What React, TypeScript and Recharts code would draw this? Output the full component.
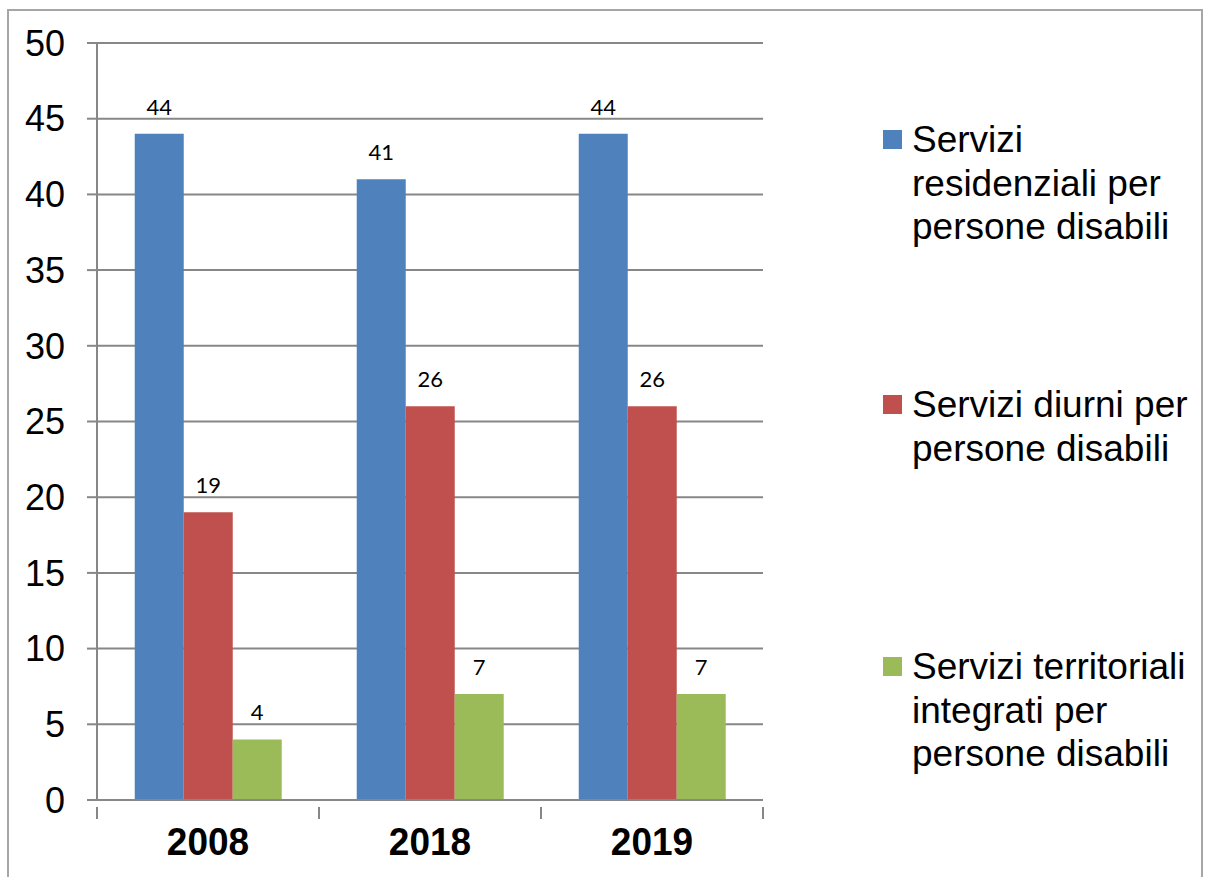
import { Bar, BarChart, CartesianGrid, LabelList, Legend, XAxis, YAxis } from "recharts"

const years = ["2008", "2018", "2019"]
const residenziali = [44, 41, 44]
const diurni = [19, 26, 26]
const territoriali = [4, 7, 7]
const yTicks = [0, 5, 10, 15, 20, 25, 30, 35, 40, 45, 50]

const seriesNames = [
  ["Servizi", "residenziali per", "persone disabili"],
  ["Servizi diurni per", "persone disabili"],
  ["Servizi territoriali", "integrati per", "persone disabili"],
]
const colors = ["#4F81BD", "#C0504D", "#9BBB59"]

const W = 1208
const H = 877
const plotLeft = 97
const plotRight = 763
const catW = (plotRight - plotLeft) / years.length

const data = years.map((y, i) => ({
  name: y,
  residenziali: residenziali[i],
  diurni: diurni[i],
  territoriali: territoriali[i],
}))

const grid = "#878787"

function YearTick(props: any) {
  const { x, y, payload, index } = props
  const left = x - catW / 2
  const ty = y + 47
  return (
    <g>
      <line x1={left} y1={y - 1} x2={left} y2={y + 11} stroke={grid} strokeWidth={2} />
      {index === years.length - 1 && (
        <line x1={left + catW} y1={y - 1} x2={left + catW} y2={y + 11} stroke={grid} strokeWidth={2} />
      )}
      <text
        x={x}
        y={ty}
        textAnchor="middle"
        fontFamily="Liberation Sans, Arial, sans-serif"
        fontWeight="bold"
        fontSize={37}
        fill="#000"
        transform={`translate(0, ${ty}) scale(1, 1.06) translate(0, ${-ty})`}
      >
        {payload.value}
      </text>
    </g>
  )
}

const legendTops = [118, 383, 645]

function renderLegend() {
  return (
    <div style={{ position: "relative", width: W, height: H }}>
      {seriesNames.map((lines, i) => (
        <div
          key={i}
          style={{
            position: "absolute",
            left: 883,
            top: legendTops[i],
            fontFamily: "Liberation Sans, Arial, sans-serif",
            fontSize: 37,
            lineHeight: "43.5px",
            color: "#000",
            whiteSpace: "nowrap",
          }}
        >
          <span
            style={{
              position: "absolute",
              left: 0,
              top: 12,
              width: 19,
              height: 19,
              background: colors[i],
            }}
          />
          <div style={{ marginLeft: 29 }}>
            {lines.map((l, j) => (
              <div key={j}>{l}</div>
            ))}
          </div>
        </div>
      ))}
    </div>
  )
}

export default function App() {
  return (
    <div style={{ position: "absolute", left: 0, top: 0, width: W, height: H, background: "#fff" }}>
      <div
        style={{
          position: "absolute",
          left: 7,
          top: 9,
          width: 1196,
          height: 870,
          border: "2px solid #a6a6a6",
          boxSizing: "border-box",
        }}
      />
      <BarChart
        width={W}
        height={H}
        data={data}
        margin={{ top: 43, right: W - plotRight, left: 0, bottom: 0 }}
        barCategoryGap="17%"
        barGap={0}
        style={{ position: "absolute", left: 0, top: 0 }}
      >
        <CartesianGrid vertical={false} stroke={grid} strokeWidth={2} />
        <XAxis
          dataKey="name"
          axisLine={{ stroke: grid, strokeWidth: 2 }}
          tickLine={false}
          tick={<YearTick />}
          height={77}
          interval={0}
        />
        <YAxis
          width={plotLeft}
          domain={[0, 50]}
          ticks={yTicks}
          interval={0}
          axisLine={{ stroke: grid, strokeWidth: 2 }}
          tickLine={{ stroke: grid, strokeWidth: 2 }}
          tickSize={10}
          tickMargin={22}
          tick={{ fill: "#000", fontSize: 36, fontFamily: "Liberation Sans, Arial, sans-serif" }}
        />
        <Legend
          layout="horizontal"
          verticalAlign="middle"
          align="center"
          content={renderLegend}
          wrapperStyle={{ position: "absolute", left: 0, top: 0, width: W, height: H, pointerEvents: "none" }}
        />
        <Bar dataKey="residenziali" fill={colors[0]} isAnimationActive={false}>
          <LabelList dataKey="residenziali" position="top" offset={19} fill="#000" fontSize={22} fontFamily="Lato, sans-serif" />
        </Bar>
        <Bar dataKey="diurni" fill={colors[1]} isAnimationActive={false}>
          <LabelList dataKey="diurni" position="top" offset={19} fill="#000" fontSize={22} fontFamily="Lato, sans-serif" />
        </Bar>
        <Bar dataKey="territoriali" fill={colors[2]} isAnimationActive={false}>
          <LabelList dataKey="territoriali" position="top" offset={19} fill="#000" fontSize={22} fontFamily="Lato, sans-serif" />
        </Bar>
      </BarChart>
    </div>
  )
}
